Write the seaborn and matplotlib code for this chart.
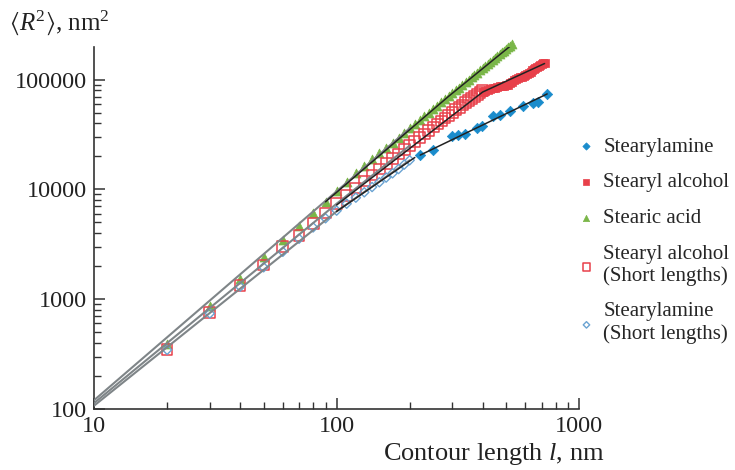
import numpy as np
import pandas as pd
import matplotlib
matplotlib.use('Agg')
import matplotlib.pyplot as plt
import seaborn as sns
from matplotlib.ticker import FixedLocator, FuncFormatter, LogLocator, NullFormatter

# --- data (contour length l, nm ; <R^2>, nm^2) ---
acid_l = [20, 30, 40, 50, 60, 70, 80, 90, 100, 110, 120, 130, 140, 150, 160, 170, 180, 190,
          200, 210, 220, 230, 240, 250, 260, 270, 280, 290, 300, 310, 320, 330, 340, 350,
          360, 370, 380, 390, 400, 410, 420, 430, 440, 450, 460, 470, 480, 490, 500, 510,
          520, 530]
acid_r2 = [390, 870, 1540, 2400, 3450, 4650, 6050, 7700, 9600, 11600, 14100, 16400, 18750,
           21260, 23900, 26700, 29600, 32700, 35900, 39250, 42700, 46300, 50000, 53900,
           57900, 62000, 66200, 70600, 75100, 79700, 84400, 89300, 94300, 99400, 104600,
           110000, 115400, 121000, 126700, 132500, 138500, 144600, 150800, 157000, 163400,
           169900, 176500, 183300, 190200, 197200, 204300, 209000]

alc_short_l = [20, 30, 40, 50, 60, 70, 80, 90, 100, 110, 120, 130, 140, 150, 160, 170, 180,
               190, 200, 210, 220, 230, 240, 250, 260, 270, 280, 290, 300, 310, 320, 330,
               340, 350, 360, 370, 380, 390, 400]
alc_short_r2 = [350, 760, 1340, 2050, 3000, 3800, 4850, 6100, 7400, 8800, 10300, 11900,
                13500, 15300, 17100, 19000, 21000, 23100, 25200, 27400, 29700, 32000, 34400,
                36900, 39400, 42000, 44700, 47400, 50200, 53000, 55800, 58700, 61600, 64500,
                67500, 70500, 73500, 76500, 79000]

alc_l = [400, 410, 420, 430, 440, 450, 460, 470, 480, 490, 500, 510, 520, 530, 540, 550, 560,
         570, 580, 590, 600, 610, 620, 630, 640, 650, 660, 670, 680, 690, 700, 710, 720]
alc_r2 = [77000, 79000, 81000, 82500, 83500, 84000, 85000, 86500, 87500, 88000, 88500, 90000,
          93000, 96000, 99000, 101000, 103000, 104500, 106000, 108000, 110000, 112000, 115000,
          118000, 121000, 124000, 127000, 131000, 134000, 137000, 140000, 142000, 143000]

amine_short_l = [20, 30, 40, 50, 60, 70, 80, 90, 100, 110, 120, 130, 140, 150, 160, 170, 180,
                 190, 200]
amine_short_r2 = [345, 740, 1300, 1950, 2700, 3550, 4500, 5450, 6400, 7400, 8400, 9400, 10500,
                  11600, 12800, 14000, 15300, 16800, 18400]

amine_l = [221, 250, 299, 317, 339, 380, 398, 442, 472, 519, 588, 646, 677, 738]
amine_r2 = [20500, 22800, 30600, 31200, 32000, 36300, 37800, 46800, 47700, 52000, 57700,
            61500, 62800, 74000]

# fitted curves
gray_l = [10, 100, 200]
gray_acid = [120, 9600, 36000]
gray_alc = [113, 7400, 25000]
gray_amine = [107, 6300, 18400]

fit_acid_l = [90, 290, 530]
fit_acid_r2 = [7700, 70600, 209000]
fit_alc_l = [100, 400, 720]
fit_alc_r2 = [7200, 77000, 140000]
fit_amine_short_l = [100, 210]
fit_amine_short_r2 = [6300, 19500]
fit_amine_l = [221, 738]
fit_amine_r2 = [20500, 74000]

BLUE = '#1a8ccc'
RED = '#e8404a'
GREEN = '#7ab648'
LBLUE = '#6aa3d2'

sns.set_style('ticks')
plt.rcParams['font.family'] = ['Liberation Serif', 'DejaVu Sans']
plt.rcParams['mathtext.fontset'] = 'custom'
plt.rcParams['mathtext.rm'] = 'Liberation Serif'
plt.rcParams['mathtext.it'] = 'Liberation Serif:italic'
plt.rcParams['mathtext.fallback'] = 'stix'

fig = plt.figure(figsize=(7.35, 4.7), dpi=100)
ax = fig.add_axes([0.128, 0.130, 0.660, 0.770])

# data markers
sns.scatterplot(x=amine_l, y=amine_r2, marker='D', s=28, color=BLUE, edgecolor=BLUE,
                linewidth=0.5, ax=ax, label='Stearylamine', zorder=3, clip_on=False)
sns.scatterplot(x=alc_l, y=alc_r2, marker='s', s=40, color=RED, edgecolor=RED,
                linewidth=0.5, ax=ax, label='Stearyl alcohol', zorder=3, clip_on=False)
sns.scatterplot(x=acid_l, y=acid_r2, marker='^', s=42, color=GREEN, edgecolor=GREEN,
                linewidth=0.5, ax=ax, label='Stearic acid', zorder=3, clip_on=False)
sns.scatterplot(x=alc_short_l, y=alc_short_r2, marker='s', s=60, facecolor='none',
                edgecolor=RED, linewidth=1.1, ax=ax,
                label='Stearyl alcohol\n(Short lengths)', zorder=3)
sns.scatterplot(x=amine_short_l, y=amine_short_r2, marker='D', s=22, facecolor='none',
                edgecolor=LBLUE, linewidth=1.0, ax=ax,
                label='Stearylamine\n(Short lengths)', zorder=3)

# fit lines
for yy in (gray_acid, gray_alc, gray_amine):
    sns.lineplot(x=gray_l, y=yy, color='#7f8588', lw=1.5, ax=ax, zorder=4,
                 estimator=None, sort=False)
for xx, yy in ((fit_acid_l, fit_acid_r2), (fit_alc_l, fit_alc_r2),
               (fit_amine_short_l, fit_amine_short_r2), (fit_amine_l, fit_amine_r2)):
    sns.lineplot(x=xx, y=yy, color='#222222', lw=1.1, ax=ax, zorder=5,
                 estimator=None, sort=False)

ax.set_xscale('log')
ax.set_yscale('log')
ax.set_xlim(10, 1000)
ax.set_ylim(100, 1.98e5)

fmt = FuncFormatter(lambda v, p: f'{int(round(v))}')
ax.xaxis.set_major_locator(FixedLocator([10, 100, 1000]))
ax.yaxis.set_major_locator(FixedLocator([100, 1000, 10000, 100000]))
ax.xaxis.set_major_formatter(fmt)
ax.yaxis.set_major_formatter(fmt)
ax.xaxis.set_minor_locator(LogLocator(base=10, subs=np.arange(2, 10)))
ax.yaxis.set_minor_locator(LogLocator(base=10, subs=np.arange(2, 10)))
ax.xaxis.set_minor_formatter(NullFormatter())
ax.yaxis.set_minor_formatter(NullFormatter())

ax.tick_params(which='both', direction='in', colors='#333333', labelcolor='#222222')
ax.tick_params(which='major', length=8, width=1.1, labelsize=17.5, pad=5)
ax.tick_params(which='minor', length=5, width=1.0)
sns.despine(ax=ax)
for sp in ('left', 'bottom'):
    ax.spines[sp].set_linewidth(1.2)
    ax.spines[sp].set_color('#333333')
ax.set_xlabel('')
ax.set_ylabel('')

fig.text(0.012, 0.952, r'$\langle R^2\rangle$, nm$^2$', fontsize=18, ha='left',
         va='center', color='#222222')
fig.text(604 / 735, 1 - 454 / 470, r'Contour length $l$, nm', fontsize=19, ha='right',
         va='center', color='#222222')

ax.legend(loc='center left', bbox_to_anchor=(1.0, 0.465), frameon=False, fontsize=15,
          borderaxespad=0, borderpad=0, handlelength=0.7, handletextpad=0.45,
          labelspacing=0.78, markerscale=0.7)

fig.savefig('out.png', dpi=100)
